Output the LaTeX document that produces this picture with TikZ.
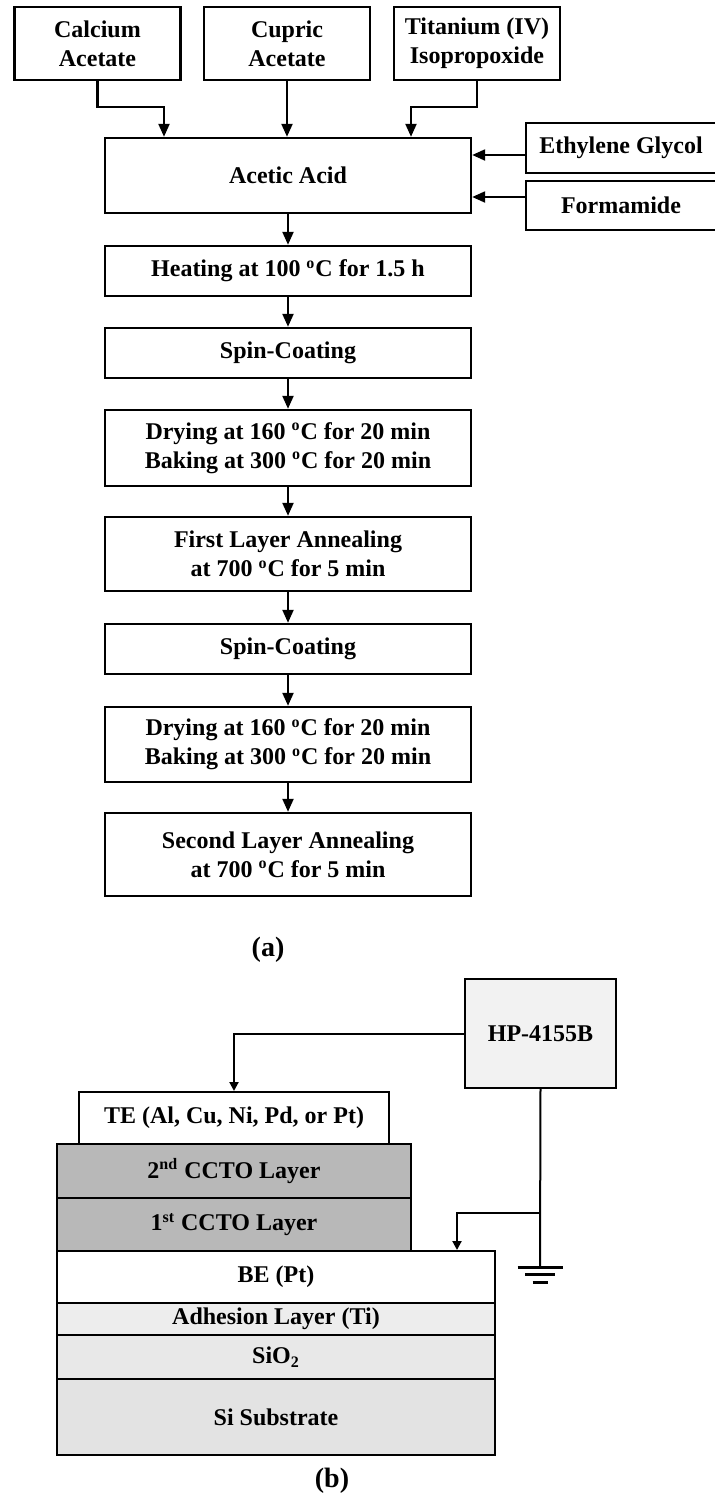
\documentclass[tikz,border=0pt]{standalone}
\usepackage{fontspec}
\setmainfont{Liberation Serif}
\usetikzlibrary{arrows.meta}

\begin{document}
\begin{tikzpicture}[x=0.5pt, y=-0.5pt,
	every node/.style={font=\fontsize{12}{14.5}\selectfont\bfseries, inner sep=0pt, align=center},
	src/.style={draw, line width=1.2pt, minimum width=83pt, minimum height=36.5pt},
	proc/.style={draw, line width=1.2pt, minimum width=183pt},
	side/.style={draw, line width=1.2pt, minimum width=95pt},
	arr/.style={line width=1.1pt, -{Triangle[length=6.5pt,width=5.5pt]}},
	layer/.style={draw, line width=1pt, minimum height=#1},
	wire/.style={line width=1pt},
	sarr/.style={wire, -{Triangle[length=4.5pt,width=4.5pt]}},
	figlabel/.style={font=\fontsize{14}{16}\selectfont\bfseries}]
	\useasboundingbox (0,0) rectangle (714,1494);
	% (a) sol-gel flow
	\node[src] (calc) at (97.5,43.5) {Calcium\\Acetate};
	\node[src] (cupr) at (287,43.5) {Cupric\\Acetate};
	\node[src] (tita) at (477,43.5) {Titanium (IV)\\Isopropoxide};
	\node[proc, minimum height=37.5pt] (acet) at (288,175.5) {Acetic Acid};
	\node[side, minimum height=25pt] (ethy) at (621,148) {Ethylene Glycol};
	\node[side, minimum height=24.5pt] (form) at (621,205.5) {Formamide};
	\node[proc, minimum height=25pt] (heat) at (288,271) {Heating at 100 \textsuperscript{o}C for 1.5 h};
	\node[proc, minimum height=25pt] (spin1) at (288,353) {Spin-Coating};
	\node[proc, minimum height=38pt] (dry1) at (288,448) {Drying at 160 \textsuperscript{o}C for 20 min\\Baking at 300 \textsuperscript{o}C for 20 min};
	\node[proc, minimum height=37pt] (ann1) at (288,554) {First Layer Annealing\\at 700 \textsuperscript{o}C for 5 min};
	\node[proc, minimum height=25pt] (spin2) at (288,649) {Spin-Coating};
	\node[proc, minimum height=37.5pt] (dry2) at (288,744.5) {Drying at 160 \textsuperscript{o}C for 20 min\\Baking at 300 \textsuperscript{o}C for 20 min};
	\node[proc, minimum height=41.5pt] (ann2) at (288,854.5) {Second Layer Annealing\\at 700 \textsuperscript{o}C for 5 min};
	\node[figlabel] (capa) at (268,950) {(a)};
	\draw[arr] (calc.south) -- ++(0,26) -| ([xshift=-62pt]acet.north);
	\draw[arr] (cupr.south) -- (cupr.south |- acet.north);
	\draw[arr] (tita.south) -- ++(0,26) -| ([xshift=61.5pt]acet.north);
	\coordinate (ein) at ([yshift=-3.5pt]ethy.west);
	\coordinate (fin) at ([yshift=4.25pt]form.west);
	\draw[arr] (ein) -- (ein -| acet.east);
	\draw[arr] (fin) -- (fin -| acet.east);
	\foreach \a/\b in {acet/heat, heat/spin1, spin1/dry1, dry1/ann1, ann1/spin2, spin2/dry2, dry2/ann2}
		\draw[arr] (\a.south) -- (\b.north);
	% (b) device stack
	\node[draw, line width=1.2pt, fill=black!5, minimum width=75.5pt, minimum height=54.5pt] (hp) at (540.5,1033.5) {HP-4155B};
	\node[layer=26pt, minimum width=155pt] (te) at (234,1118) {TE (Al, Cu, Ni, Pd, or Pt)};
	\node[layer=27pt, minimum width=177pt, fill=black!28] (cct2) at (234,1171) {2\textsuperscript{nd} CCTO Layer};
	\node[layer=26.5pt, minimum width=177pt, fill=black!28] (cct1) at (234,1224.5) {1\textsuperscript{st} CCTO Layer};
	\node[layer=26pt, minimum width=219pt] (be) at (276,1277) {BE (Pt)};
	\node[layer=16pt, minimum width=219pt, fill=black!7] (adh) at (276,1319) {Adhesion Layer (Ti)};
	\node[layer=22pt, minimum width=219pt, fill=black!9] (sio) at (276,1357) {SiO\textsubscript{2}};
	\node[layer=38pt, minimum width=219pt, fill=black!11] (sub) at (276,1417) {Si Substrate};
	\node[figlabel] (capb) at (332,1481) {(b)};
	\coordinate (tap) at (540,1213);
	\coordinate (gnd) at (540,1267);
	\draw[sarr] (hp.west) -| (te.north);
	\draw[wire] (hp.south) -- (gnd);
	\draw[sarr] (tap) -| ([xshift=90.5pt]be.north);
	\draw[line width=1.5pt] ([xshift=-11.25pt]gnd) -- ([xshift=11.25pt]gnd);
	\draw[line width=1.5pt] ([xshift=-7.5pt,yshift=-3.5pt]gnd) -- ([xshift=7.5pt,yshift=-3.5pt]gnd);
	\draw[line width=1.5pt] ([xshift=-3.75pt,yshift=-7.5pt]gnd) -- ([xshift=3.75pt,yshift=-7.5pt]gnd);
\end{tikzpicture}
\end{document}
